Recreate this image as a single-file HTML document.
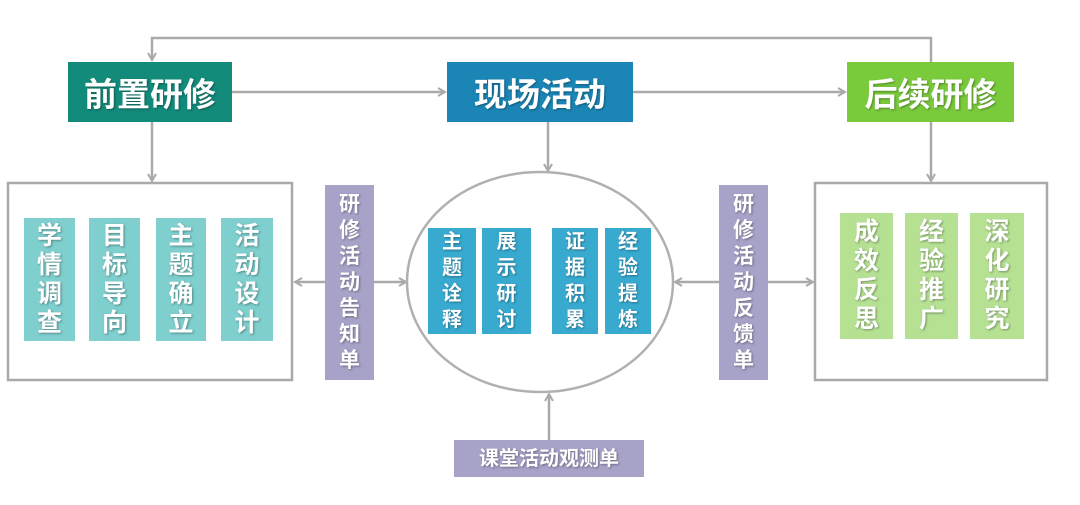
<!DOCTYPE html>
<html><head><meta charset="utf-8"><style>
body{margin:0;width:1080px;height:505px;background:#fff;position:relative;overflow:hidden;font-family:"Liberation Sans","Noto Sans CJK SC",sans-serif;}
.b{position:absolute;color:#fff;font-weight:bold;display:flex;align-items:center;justify-content:center;text-align:center;text-shadow:1px 1px 2px rgba(0,0,0,.35);box-sizing:border-box;}
.t{font-size:33px;height:60px;top:62px;}
.v{font-size:25px;line-height:29px;}
.s{font-size:20px;line-height:26px;}
.p{background:#a7a2c8;font-size:21px;line-height:26px;}
</style></head><body>
<svg width="1080" height="505" style="position:absolute;left:0;top:0">
<defs><marker id="a" markerWidth="10" markerHeight="10" refX="8" refY="5" orient="auto" markerUnits="userSpaceOnUse"><path d="M1,1 L8,5 L1,9" fill="none" stroke="#aaa" stroke-width="2"/></marker></defs>
<g stroke="#aaa" stroke-width="2.5" fill="none">
<polyline points="931,62 931,38 152,38 152,60" marker-end="url(#a)"/>
<line x1="232" y1="92" x2="445" y2="92" marker-end="url(#a)"/>
<line x1="633" y1="92" x2="845" y2="92" marker-end="url(#a)"/>
<line x1="152" y1="122" x2="152" y2="181" marker-end="url(#a)"/>
<line x1="548" y1="122" x2="548" y2="171" marker-end="url(#a)"/>
<line x1="931" y1="122" x2="931" y2="181" marker-end="url(#a)"/>
<line x1="325" y1="282" x2="295" y2="282" marker-end="url(#a)"/>
<line x1="374" y1="282" x2="406" y2="282" marker-end="url(#a)"/>
<line x1="719" y1="282" x2="675" y2="282" marker-end="url(#a)"/>
<line x1="768" y1="282" x2="813" y2="282" marker-end="url(#a)"/>
<line x1="549" y1="440" x2="549" y2="394" marker-end="url(#a)"/>
<rect x="8" y="183" width="284" height="197" stroke="#a9a9a9"/>
<rect x="815" y="183" width="232" height="197" stroke="#a9a9a9"/>
<ellipse cx="540" cy="282" rx="133" ry="110" stroke="#b0b0b0"/>
</g></svg>
<div class="b t" style="left:68px;width:164px;background:#138b7b">前置研修</div>
<div class="b t" style="left:447px;width:186px;background:#1b86b6">现场活动</div>
<div class="b t" style="left:847px;width:167px;background:#7acb3c">后续研修</div>

<div class="b v" style="left:24px;top:218px;width:51px;height:123px;background:#7fcfcf">学<br>情<br>调<br>查</div>
<div class="b v" style="left:89px;top:218px;width:51px;height:123px;background:#7fcfcf">目<br>标<br>导<br>向</div>
<div class="b v" style="left:156px;top:218px;width:50px;height:123px;background:#7fcfcf">主<br>题<br>确<br>立</div>
<div class="b v" style="left:221px;top:218px;width:52px;height:123px;background:#7fcfcf">活<br>动<br>设<br>计</div>

<div class="b s" style="left:428px;top:228px;width:48px;height:106px;background:#38aad0">主<br>题<br>诠<br>释</div>
<div class="b s" style="left:482px;top:228px;width:49px;height:106px;background:#38aad0">展<br>示<br>研<br>讨</div>
<div class="b s" style="left:552px;top:228px;width:46px;height:106px;background:#38aad0">证<br>据<br>积<br>累</div>
<div class="b s" style="left:605px;top:228px;width:46px;height:106px;background:#38aad0">经<br>验<br>提<br>炼</div>

<div class="b v" style="left:840px;top:213px;width:53px;height:126px;background:#b6e193">成<br>效<br>反<br>思</div>
<div class="b v" style="left:905px;top:213px;width:53px;height:126px;background:#b6e193">经<br>验<br>推<br>广</div>
<div class="b v" style="left:970px;top:213px;width:54px;height:126px;background:#b6e193">深<br>化<br>研<br>究</div>

<div class="b p" style="left:325px;top:185px;width:49px;height:195px">研<br>修<br>活<br>动<br>告<br>知<br>单</div>
<div class="b p" style="left:719px;top:185px;width:49px;height:195px">研<br>修<br>活<br>动<br>反<br>馈<br>单</div>
<div class="b p" style="left:454px;top:440px;width:190px;height:37px;font-size:20px">课堂活动观测单</div>
</body></html>
